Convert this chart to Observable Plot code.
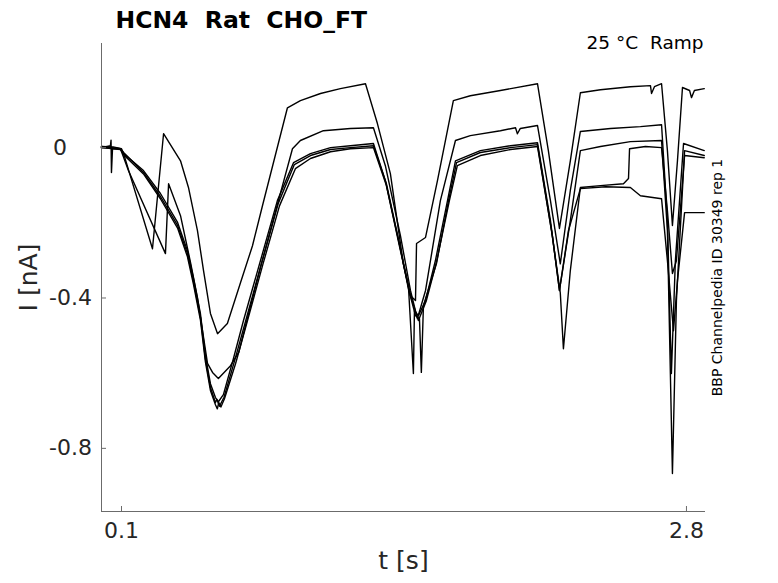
<!DOCTYPE html>
<html>
<head>
<meta charset="utf-8">
<script src="https://cdn.jsdelivr.net/npm/d3@7"></script>
<script src="https://cdn.jsdelivr.net/npm/@observablehq/plot@0.6"></script>
<style>
  html, body { margin: 0; padding: 0; background: #fff; }
  svg text { white-space: pre; }
</style>
</head>
<body>
<div id="chart"></div>
<script>
// ---- data (t in s, I in nA) ----
const tA = [0.004,0.06,0.10,0.11,0.248,0.301,0.382,0.420,0.463,0.492,0.525,0.559,0.606,0.669,0.726,0.774,0.893,0.955,1.051,1.146,1.266,1.323,1.385,1.447,1.481,1.505,1.510,1.553,1.610,1.686,1.767,1.911,2.088,2.140,2.193,2.245,2.293,2.389,2.532,2.628,2.633,2.647,2.681,2.709,2.733,2.757,2.781,2.815,2.824,2.838,2.885];
const iA = [0.003,0.002,-0.003,-0.016,-0.269,0.037,-0.035,-0.106,-0.221,-0.327,-0.441,-0.495,-0.468,-0.359,-0.261,-0.154,0.106,0.125,0.144,0.157,0.170,0.064,-0.069,-0.309,-0.394,-0.407,-0.255,-0.239,-0.088,0.125,0.138,0.152,0.170,-0.008,-0.215,-0.035,0.146,0.154,0.162,0.165,0.144,0.162,0.170,-0.008,-0.207,-0.035,0.160,0.152,0.133,0.152,0.157];

const tB = [0.004,0.047,0.050,0.052,0.057,0.095,0.133,0.310,0.325,0.382,0.430,0.463,0.511,0.535,0.563,0.621,0.660,0.764,0.850,0.917,0.955,1.065,1.194,1.304,1.361,1.433,1.481,1.514,1.553,1.624,1.696,1.767,1.911,1.983,1.992,2.006,2.088,2.150,2.197,2.245,2.293,2.437,2.580,2.681,2.709,2.728,2.747,2.786,2.885];
const iB = [0,0.005,0.020,-0.066,-0.003,-0.003,-0.061,-0.282,-0.096,-0.181,-0.306,-0.399,-0.574,-0.598,-0.614,-0.580,-0.545,-0.319,-0.141,-0.003,0.019,0.045,0.051,0.053,-0.048,-0.234,-0.380,-0.455,-0.380,-0.141,0.019,0.032,0.045,0.053,0.037,0.051,0.059,-0.141,-0.309,-0.114,0.043,0.051,0.056,0.061,-0.194,-0.601,-0.301,0.011,-0.008];

const tC = [0.004,0.095,0.110,0.205,0.286,0.368,0.415,0.444,0.477,0.501,0.525,0.549,0.563,0.587,0.635,0.683,0.764,0.845,0.922,1.003,1.099,1.194,1.304,1.361,1.424,1.471,1.495,1.500,1.519,1.553,1.600,1.658,1.696,1.815,1.959,2.088,2.150,2.193,2.245,2.293,2.389,2.532,2.681,2.709,2.733,2.752,2.791,2.885];
const iC = [0.003,-0.003,-0.016,-0.061,-0.122,-0.199,-0.274,-0.348,-0.441,-0.553,-0.628,-0.665,-0.676,-0.657,-0.561,-0.460,-0.301,-0.141,-0.040,-0.016,0,0.005,0.011,-0.088,-0.247,-0.367,-0.601,-0.434,-0.447,-0.407,-0.301,-0.141,-0.035,-0.008,0.005,0.013,-0.194,-0.380,-0.194,-0.008,0.003,0.016,0.019,-0.221,-0.867,-0.407,-0.008,-0.021];

const tD = [0.004,0.095,0.110,0.205,0.286,0.368,0.415,0.444,0.477,0.501,0.525,0.549,0.556,0.568,0.590,0.640,0.690,0.770,0.850,0.926,1.003,1.099,1.194,1.304,1.366,1.428,1.471,1.505,1.524,1.533,1.543,1.605,1.663,1.701,1.815,1.959,2.088,2.155,2.197,2.212,2.245,2.293,2.389,2.499,2.523,2.528,2.604,2.681,2.709,2.733,2.752,2.791,2.885];
const iD = [0,-0.003,-0.013,-0.066,-0.130,-0.207,-0.282,-0.356,-0.450,-0.562,-0.638,-0.678,-0.670,-0.688,-0.664,-0.568,-0.468,-0.306,-0.147,-0.045,-0.021,-0.005,0,0.005,-0.096,-0.255,-0.375,-0.447,-0.455,-0.598,-0.420,-0.309,-0.141,-0.040,-0.013,0,0.008,-0.220,-0.386,-0.535,-0.327,-0.106,-0.101,-0.096,-0.082,-0.003,0.003,0,-0.168,-0.335,-0.301,-0.021,-0.027];

const tE = [0.004,0.095,0.110,0.205,0.286,0.368,0.415,0.444,0.477,0.501,0.525,0.549,0.558,0.565,0.575,0.592,0.645,0.695,0.775,0.855,0.931,1.003,1.099,1.194,1.304,1.366,1.428,1.481,1.519,1.557,1.605,1.667,1.705,1.815,1.959,2.088,2.159,2.193,2.236,2.293,2.413,2.532,2.580,2.681,2.709,2.738,2.757,2.791,2.885];
const iE = [0,-0.005,-0.019,-0.070,-0.136,-0.214,-0.290,-0.364,-0.458,-0.570,-0.646,-0.684,-0.695,-0.678,-0.690,-0.668,-0.575,-0.475,-0.312,-0.155,-0.056,-0.029,-0.011,-0.003,0,-0.101,-0.261,-0.394,-0.460,-0.407,-0.305,-0.141,-0.048,-0.021,-0.005,0.003,-0.234,-0.380,-0.221,-0.109,-0.104,-0.106,-0.128,-0.136,-0.301,-0.487,-0.354,-0.173,-0.173];

const yTicks = [0, -0.4, -0.8];
const yTickLabels = ["0\u2007\u2002", "-0.4", "-0.8"];
const xTicks = [0.1, 2.8];
const xTickLabels = ["0.1", "2.8"];

const titleText = "HCN4  Rat  CHO_FT";
const condText = "25 °C  Ramp";
const sideText = "BBP Channelpedia ID 30349 rep 1";
const xLabel = "t [s]";
const yLabel = "I [nA]";

// ---- build rows ----
const traces = [["A", tA, iA], ["B", tB, iB], ["C", tC, iC], ["D", tD, iD], ["E", tE, iE]];
const rows = traces.flatMap(([k, ts, is]) => ts.map((t, j) => ({trace: k, t, I: is[j]})));

const xDomain = [0.0044, 2.891];
const yDomain = [-0.968, 0.277];
const axisColor = "#6b6b6b";
const textColor = "#262626";
const font = "DejaVu Sans, sans-serif";

const chart = Plot.plot({
  width: 778,
  height: 583,
  marginLeft: 101,
  marginRight: 73,
  marginTop: 43,
  marginBottom: 72,
  style: {fontFamily: font, background: "#fff", overflow: "visible"},
  x: {domain: xDomain},
  y: {domain: yDomain},
  marks: [
    Plot.line(rows, {x: "t", y: "I", z: "trace", stroke: "#000", strokeWidth: 1.4, strokeLinejoin: "round"}),
    Plot.ruleX([xDomain[0]], {stroke: axisColor, strokeWidth: 1}),
    Plot.ruleY([yDomain[0]], {stroke: axisColor, strokeWidth: 1}),
    Plot.axisY({ticks: yTicks, tickFormat: (d, i) => yTickLabels[i], tickSize: -5, tickPadding: 14.5, stroke: axisColor, color: textColor, fontSize: 22, label: null}),
    Plot.axisX({ticks: xTicks, tickFormat: (d, i) => xTickLabels[i], tickSize: -5, tickPadding: 16, stroke: axisColor, color: textColor, fontSize: 22, label: null}),
    Plot.text([yLabel], {frameAnchor: "left", textAnchor: "middle", rotate: -90, dx: -73, fontSize: 25, fill: textColor}),
    Plot.text([xLabel], {frameAnchor: "bottom", textAnchor: "middle", dy: 57, fontSize: 25, fill: textColor}),
    Plot.text([titleText], {frameAnchor: "top-left", textAnchor: "start", dx: 14, dy: -32, fontSize: 23.5, fontWeight: "bold", fill: "#000"}),
    Plot.text([condText], {frameAnchor: "top-right", textAnchor: "end", dx: -2, dy: -8, fontSize: 18.5, fill: "#000"}),
    Plot.text([sideText], {frameAnchor: "right", textAnchor: "middle", rotate: -90, dx: 12, fontSize: 14, fill: "#000"})
  ]
});
document.getElementById("chart").appendChild(chart);
</script>
</body>
</html>
